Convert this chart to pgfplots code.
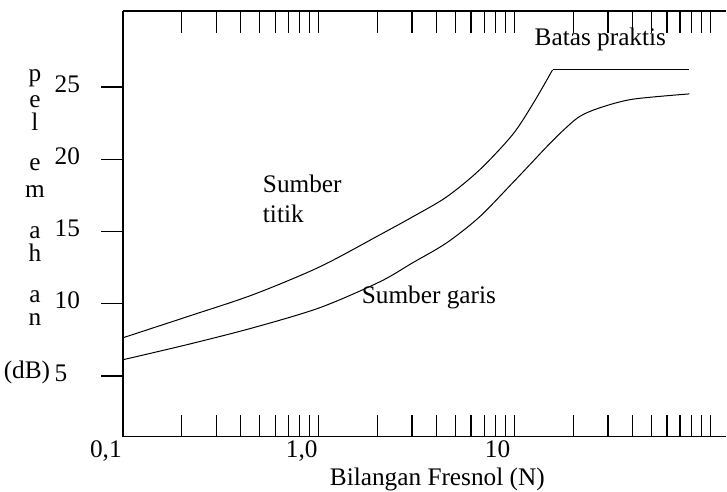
\documentclass[border=0pt]{standalone}
\usepackage{pgfplots}
\pgfplotsset{compat=1.18}
\usepackage{fontspec}
\setmainfont{Liberation Serif}
\newcommand{\bigf}{\fontsize{25.3}{29}\selectfont}
\newcommand{\px}[2]{([xshift={#1pt-123pt},yshift={437pt-#2pt}]rel axis cs:0,0)}
\begin{document}
\bigf
\begin{tikzpicture}
\begin{axis}[
  scale only axis, width=604pt, height=426pt,
  xmode=log, xmin=0.1, xmax=120.7, ymin=0.8, ymax=30.26,
  axis x line*=box, axis y line*=left,
  axis line style={line width=1.3pt},
  xtick={0.1,1,10}, xticklabels={{0,1},{1,0},{10}},
  minor xtick={0.2,0.3,0.4,0.5,0.6,0.7,0.8,0.9,2,3,4,5,6,7,8,9,20,30,40,50,60,70,80,90,100},
  xtick align=inside, xtick pos=both,
  major tick length=22pt, minor tick length=22pt,
  every tick/.style={line width=1.3pt, black},
  every minor tick/.style={line width=1.3pt, black},
  ytick={5,10,15,20,25}, yticklabels={5,10,15,20,25},
  ytick align=outside, ytick pos=left,
  every tick label/.append style={font=\bigf},
  xticklabel style={xshift=-17pt, yshift=5pt},
  yticklabel style={anchor=west, xshift=-55pt, yshift=3pt},
  clip=false,
]
\addplot[black, line width=1pt, smooth] coordinates {
 (0.1,7.64) (0.212,9.09) (0.461,10.62) (1.012,12.55) (2.048,14.76) (3.017,16.01)
 (4.50,17.39) (6.63,19.26) (9.77,21.7) (12.5,23.9) (15.63,26.18)};
\addplot[black, line width=1pt] coordinates {(15.63,26.18) (78.1,26.18)};
\addplot[black, line width=1pt, smooth] coordinates {
 (0.1,6.12) (0.212,7.16) (0.461,8.33) (1.012,9.72) (2.048,11.51) (3.017,12.83)
 (4.50,14.21) (6.63,16.01) (9.77,18.36) (11.93,19.6) (14.57,20.85) (17.58,21.95)
 (21.46,22.95) (27.15,23.55) (40.0,24.15) (78.1,24.52)};
\node[anchor=base west, inner sep=0] at \px{263}{193} {Sumber};
\node[anchor=base west, inner sep=0] at \px{263}{223} {titik};
\node[anchor=base west, inner sep=0] at \px{362}{304} {Sumber garis};
\node[anchor=base west, inner sep=0] at \px{535}{46} {Batas praktis};
\node[anchor=base west, inner sep=0] at \px{330}{486} {Bilangan Fresnol (N)};
\node[inner sep=0] at \px{35}{78} {p};
\node[inner sep=0] at \px{35}{102} {e};
\node[inner sep=0] at \px{35}{122} {l};
\node[inner sep=0] at \px{35}{165} {e};
\node[inner sep=0] at \px{35}{192} {m};
\node[inner sep=0] at \px{35}{233} {a};
\node[inner sep=0] at \px{35}{253} {h};
\node[inner sep=0] at \px{35}{297} {a};
\node[inner sep=0] at \px{35}{320} {n};
\node[inner sep=0] at \px{27}{373} {(dB)};
\end{axis}
\path ([xshift=-123pt,yshift=-53pt]current axis.south west) rectangle ([yshift=11pt]current axis.north east);
\end{tikzpicture}
\end{document}
